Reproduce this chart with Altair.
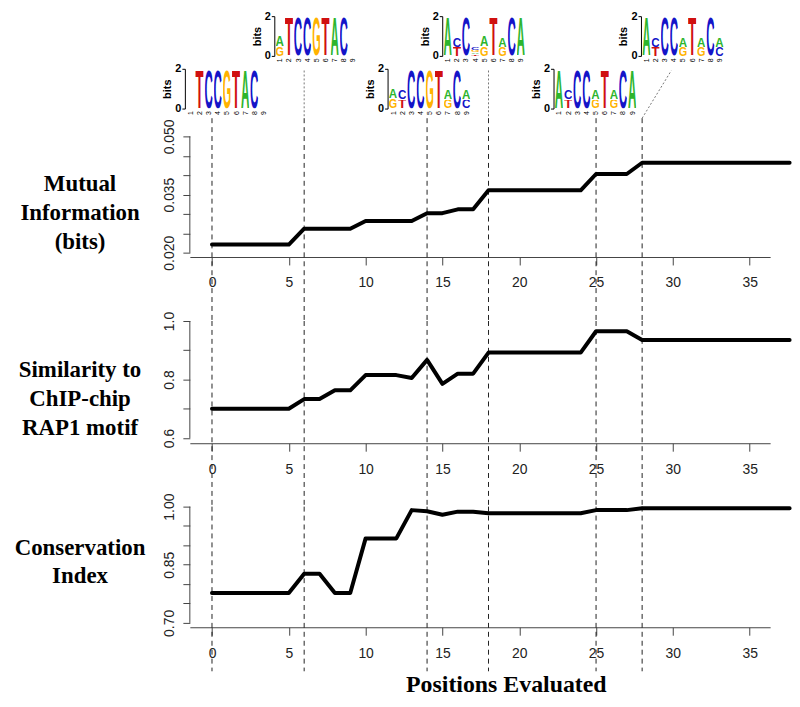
import altair as alt
import pandas as pd
from urllib.parse import quote

# ---------------- data ----------------
mi_pos = [0, 5, 6, 9, 10, 13, 14, 15, 16, 17, 18, 24, 25, 27, 28, 37.6]
mi_val = [0.0221, 0.0221, 0.0262, 0.0262, 0.0282, 0.0282, 0.0302, 0.0302,
          0.0312, 0.0312, 0.0361, 0.0361, 0.0403, 0.0403, 0.0432, 0.0432]

sim_pos = [0, 5, 6, 7, 8, 9, 10, 12, 13, 14, 15, 16, 17, 18, 24, 25, 27, 28, 37.6]
sim_val = [0.700, 0.700, 0.733, 0.733, 0.763, 0.763, 0.815, 0.815, 0.805, 0.867,
           0.785, 0.820, 0.820, 0.892, 0.892, 0.965, 0.965, 0.935, 0.935]

cons_pos = [0, 5, 6, 7, 8, 9, 10, 12, 13, 14, 15, 16, 17, 18, 24, 25, 27, 28, 37.6]
cons_val = [0.777, 0.777, 0.827, 0.827, 0.777, 0.777, 0.918, 0.918, 0.991, 0.988,
            0.979, 0.987, 0.987, 0.983, 0.983, 0.991, 0.991, 0.996, 0.996]

marked_positions = [0, 6, 14, 18, 25, 28]
x_ticks = [0, 5, 10, 15, 20, 25, 30, 35]

mi_ticks = [0.020, 0.025, 0.030, 0.035, 0.040, 0.045, 0.050]
mi_labels = [0.020, 0.035, 0.050]
sim_ticks = [0.6, 0.7, 0.8, 0.9, 1.0]
sim_labels = [0.6, 0.8, 1.0]
cons_ticks = [0.70, 0.75, 0.80, 0.85, 0.90, 0.95, 1.00]
cons_labels = [0.70, 0.85, 1.00]

# sequence logos (letters stacked bottom -> top)
logo0_pos = [2, 3, 4, 5, 6, 7, 8]
logo0_let = ["T", "C", "C", "G", "T", "A", "C"]
logo0_bits = [2, 2, 2, 2, 2, 2, 2]

logo6_pos = [1, 1, 2, 3, 4, 5, 6, 7, 8]
logo6_let = ["G", "A", "T", "C", "C", "G", "T", "A", "C"]
logo6_bits = [0.47, 0.53, 2, 2, 2, 2, 2, 2, 2]

logo14_pos = [1, 1, 2, 2, 3, 4, 5, 6, 7, 7, 8, 9, 9]
logo14_let = ["G", "A", "T", "C", "C", "C", "G", "T", "G", "A", "C", "C", "A"]
logo14_bits = [0.5, 0.5, 0.45, 0.5, 2, 2, 2, 2, 0.45, 0.5, 2, 0.45, 0.5]

logo18_pos = [1, 2, 2, 3, 4, 4, 4, 4, 5, 5, 6, 7, 7, 8, 9]
logo18_let = ["A", "T", "C", "C", "T", "A", "G", "C", "G", "A", "T", "G", "A", "C", "A"]
logo18_bits = [2, 0.45, 0.5, 2, 0.09, 0.09, 0.12, 0.15, 0.47, 0.53, 2, 0.45, 0.5, 2, 2]

logo25_pos = [1, 2, 2, 3, 4, 5, 5, 6, 7, 7, 8, 9]
logo25_let = ["A", "T", "C", "C", "C", "G", "A", "T", "G", "A", "C", "A"]
logo25_bits = [2, 0.45, 0.5, 2, 2, 0.45, 0.5, 2, 0.45, 0.5, 2, 2]

logo28_pos = [1, 2, 2, 3, 4, 5, 5, 6, 7, 7, 8, 9, 9]
logo28_let = ["A", "T", "C", "C", "C", "G", "A", "T", "G", "A", "C", "C", "A"]
logo28_bits = [2, 0.45, 0.5, 2, 2, 0.45, 0.5, 2, 0.45, 0.5, 2, 0.45, 0.5]

logo_ticks = [1, 2, 3, 4, 5, 6, 7, 8, 9]

# ---------------- style / layout ----------------
SANS = "Liberation Sans"
SERIF = "Liberation Serif"
AX = "#444444"
LAB = "#222222"

LETTER_COLORS = {"A": "#2DB52D", "C": "#1414C8", "G": "#FFB300", "T": "#D01010"}


def letter_url(ch, color):
    svg = ('<svg xmlns="http://www.w3.org/2000/svg" width="70" height="74" '
           'viewBox="0 -73 70 74" preserveAspectRatio="none">'
           f'<text x="0" y="0" font-family="Liberation Sans, Arial, sans-serif" '
           f'font-weight="bold" font-size="101" textLength="70" '
           f'lengthAdjust="spacingAndGlyphs" fill="{color}">{ch}</text></svg>')
    return "data:image/svg+xml;charset=utf-8," + quote(svg)


LETTER_URL = {k: letter_url(k, c) for k, c in LETTER_COLORS.items()}

PANEL_LEFT = 191.0
PANEL_RIGHT = 775.0
X_ZERO = 213.3
PX_UNIT = 15.46
XDOM = [(PANEL_LEFT - X_ZERO) / PX_UNIT, (PANEL_RIGHT - X_ZERO) / PX_UNIT]
PANEL_W = PANEL_RIGHT - PANEL_LEFT

P1_TOP = 134.3
H1, H2, H3 = 121.4, 123.0, 121.4
SP = 63.8
P2_TOP = P1_TOP + H1 + SP
P3_TOP = P2_TOP + H2 + SP
DASH_TOP = 116.0
DASH_BOTTOM = 672.0

UP_TOP = 14.0
LOGO_H = 40.0
LOW_TOP = 66.7
LOGO_W = 84.0
PXPOS = 9.2
FIRST_OFF = 5.5
LETTER_HALF = 0.46

one = pd.DataFrame({"k": [0]})


def spacer(w, h):
    return alt.Chart(one).mark_point(opacity=0, size=1).encode(
        x=alt.value(0), y=alt.value(0)).properties(width=w, height=h)


def make_logo(pos, let, bits, axis_x):
    df = pd.DataFrame({"pos": pos, "letter": let, "bits": bits})
    df["top"] = df.groupby("pos")["bits"].cumsum()
    df["bottom"] = df["top"] - df["bits"]
    df["left"] = df["pos"] - LETTER_HALF
    df["right"] = df["pos"] + LETTER_HALF
    df["url"] = df["letter"].map(LETTER_URL)
    plot_left = max(axis_x, PANEL_LEFT)
    off = plot_left - axis_x
    k0 = 1 - FIRST_OFF / PXPOS + off / PXPOS
    w = LOGO_W - off
    xs = alt.Scale(domain=[k0, k0 + w / PXPOS], nice=False, zero=False)
    ys = alt.Scale(domain=[0, 2], nice=False, zero=False)
    ch = alt.Chart(df).mark_image(aspect=False).encode(
        x=alt.X("left:Q", scale=xs, axis=alt.Axis(
            values=logo_ticks, format="d", domain=False, ticks=False, labelAngle=270,
            labelAlign="right", labelBaseline="middle", labelFontSize=7,
            labelPadding=2, labelFlush=False, grid=False, title=None,
            labelColor="black", labelFont=SANS)),
        x2="right:Q",
        y=alt.Y("bottom:Q", scale=ys, axis=alt.Axis(
            values=[0, 1, 2], format="d", offset=off, tickSize=3, labelFontSize=11,
            labelFontWeight="bold", labelPadding=1, labelColor="black",
            domainColor="black", tickColor="black", grid=False,
            title="bits", titleFontSize=11, titleFontWeight="bold",
            titlePadding=2, titleColor="black", labelFont=SANS, titleFont=SANS)),
        y2="top:Q",
        url="url:N",
    ).properties(width=w, height=LOGO_H)
    return ch, plot_left, w


def panel(pos, val, ydom, yticks, ylabels, fmt, height, top, title_lines,
          title_first_baseline, dash_from, dash_to, xtitle=None, extra=None):
    df = pd.DataFrame({"x": pos, "y": val})
    xs = alt.Scale(domain=XDOM, nice=False, zero=False)
    ys = alt.Scale(domain=ydom, nice=False, zero=False)
    cond = " || ".join(f"abs(datum.value - {v}) < 1e-9" for v in ylabels)
    yaxis = alt.Axis(
        values=yticks, labelExpr=f"({cond}) ? format(datum.value, '{fmt}') : ''",
        domain=False, tickSize=7, tickColor=AX, labelAngle=270, labelAlign="center",
        labelBaseline="middle", labelPadding=13, labelFontSize=14, labelColor=LAB,
        labelFont=SANS, labelOverlap=False, grid=False,
        title=title_lines, titleAngle=0, titleAlign="center", titleBaseline="alphabetic",
        titleX=80 - PANEL_LEFT, titleY=title_first_baseline - top,
        titleFont=SERIF, titleFontWeight="bold", titleFontSize=23, titleLineHeight=29,
        titleColor="black")
    xaxis_kw = dict(values=x_ticks, format="d", tickSize=8, tickColor=AX, domainColor=AX,
                    labelPadding=18, labelBaseline="middle", labelFontSize=14,
                    labelColor=LAB, labelFont=SANS, labelFlush=False, grid=False)
    if xtitle is None:
        xaxis = alt.Axis(title=None, **xaxis_kw)
    else:
        xaxis = alt.Axis(title=xtitle, titleFont=SERIF, titleFontWeight="bold",
                         titleFontSize=24, titleColor="black", titleAlign="center",
                         titleBaseline="alphabetic", titleX=509 - PANEL_LEFT,
                         titleY=692 - (top + height), **xaxis_kw)

    X = alt.X("x:Q", scale=xs, axis=xaxis)
    dash = alt.Chart(pd.DataFrame({"x": marked_positions})).mark_rule(
        strokeDash=[5, 4], color="#222222", strokeWidth=1).encode(
        x=X, y=alt.value(dash_from - top), y2=alt.value(dash_to - top))
    yline = alt.Chart(one).mark_rule(color=AX, strokeWidth=1).encode(
        x=alt.value(0),
        y=alt.YDatum(min(yticks), scale=ys, axis=yaxis),
        y2=alt.Y2Datum(max(yticks)))
    line = alt.Chart(df).mark_line(color="black", strokeWidth=4, strokeJoin="round",
                                   strokeCap="round").encode(
        x=X, y=alt.Y("y:Q", scale=ys, axis=yaxis))
    layers = [dash, yline]
    if extra is not None:
        layers += extra(xs, X, top)
    layers.append(line)
    return alt.layer(*layers).properties(width=PANEL_W, height=height)


def connectors(xs, X, top):
    conn = pd.DataFrame({"x": [6, 18]})
    dotted = alt.Chart(conn).mark_rule(strokeDash=[2, 2], color="#555555",
                                       strokeWidth=0.8).encode(
        x=X, y=alt.value(68 - top), y2=alt.value(DASH_TOP - top))
    diag = alt.Chart(pd.DataFrame({"x": [28], "x2": [29.9]})).mark_rule(
        strokeDash=[2, 2], color="#555555", strokeWidth=0.8).encode(
        x=X, x2="x2:Q",
        y=alt.value(DASH_TOP - top), y2=alt.value(68 - top))
    anchor = alt.Chart(one).mark_rule(opacity=0, strokeWidth=0.5).encode(
        x=alt.value(8 - PANEL_LEFT), x2=alt.value(9 - PANEL_LEFT),
        y=alt.value(8 - top), y2=alt.value(9 - top))
    return [anchor, dotted, diag]


# ---------------- logos ----------------
u1, u1l, u1w = make_logo(logo6_pos, logo6_let, logo6_bits, 276)
u2, u2l, u2w = make_logo(logo18_pos, logo18_let, logo18_bits, 445)
u3, u3l, u3w = make_logo(logo28_pos, logo28_let, logo28_bits, 645)
l1, l1l, l1w = make_logo(logo0_pos, logo0_let, logo0_bits, 186)
l2, l2l, l2w = make_logo(logo14_pos, logo14_let, logo14_bits, 390)
l3, l3l, l3w = make_logo(logo25_pos, logo25_let, logo25_bits, 557)

upper = alt.hconcat(
    spacer(u1l - PANEL_LEFT, LOGO_H), u1,
    spacer(u2l - (u1l + u1w), LOGO_H), u2,
    spacer(u3l - (u2l + u2w), LOGO_H), u3,
    spacing=0, bounds="flush")
lower = alt.hconcat(
    l1,
    spacer(l2l - (l1l + l1w), LOGO_H), l2,
    spacer(l3l - (l2l + l2w), LOGO_H), l3,
    spacing=0, bounds="flush")

# ---------------- panels ----------------
p1 = panel(mi_pos, mi_val, [0.0189, 0.050], mi_ticks, mi_labels, ".3f", H1, P1_TOP,
           ["Mutual", "Information", "(bits)"], 189.0, DASH_TOP, P2_TOP,
           extra=connectors)
p2 = panel(sim_pos, sim_val, [0.582, 1.0], sim_ticks, sim_labels, ".1f", H2, P2_TOP,
           ["Similarity to", "ChIP-chip", "RAP1 motif"], 375.5, P2_TOP, P3_TOP)
p3 = panel(cons_pos, cons_val, [0.6887, 1.0], cons_ticks, cons_labels, ".2f", H3, P3_TOP,
           ["Conservation", "Index"], 554.0, P3_TOP, DASH_BOTTOM,
           xtitle="Positions Evaluated")

panels = alt.vconcat(p1, p2, p3, spacing=SP, bounds="flush")

# nested concat groups count as zero height in a flush layout, so vertical
# gaps between the rows are set with invisible spacers
chart = alt.vconcat(
    upper,
    spacer(1, LOW_TOP - UP_TOP),
    lower,
    spacer(1, P1_TOP - LOW_TOP),
    panels,
    spacing=0, bounds="flush",
).properties(padding=0).configure(font=SANS).configure_view(strokeWidth=0)

chart.save("out.html", embed_options={"renderer": "svg", "actions": False})
